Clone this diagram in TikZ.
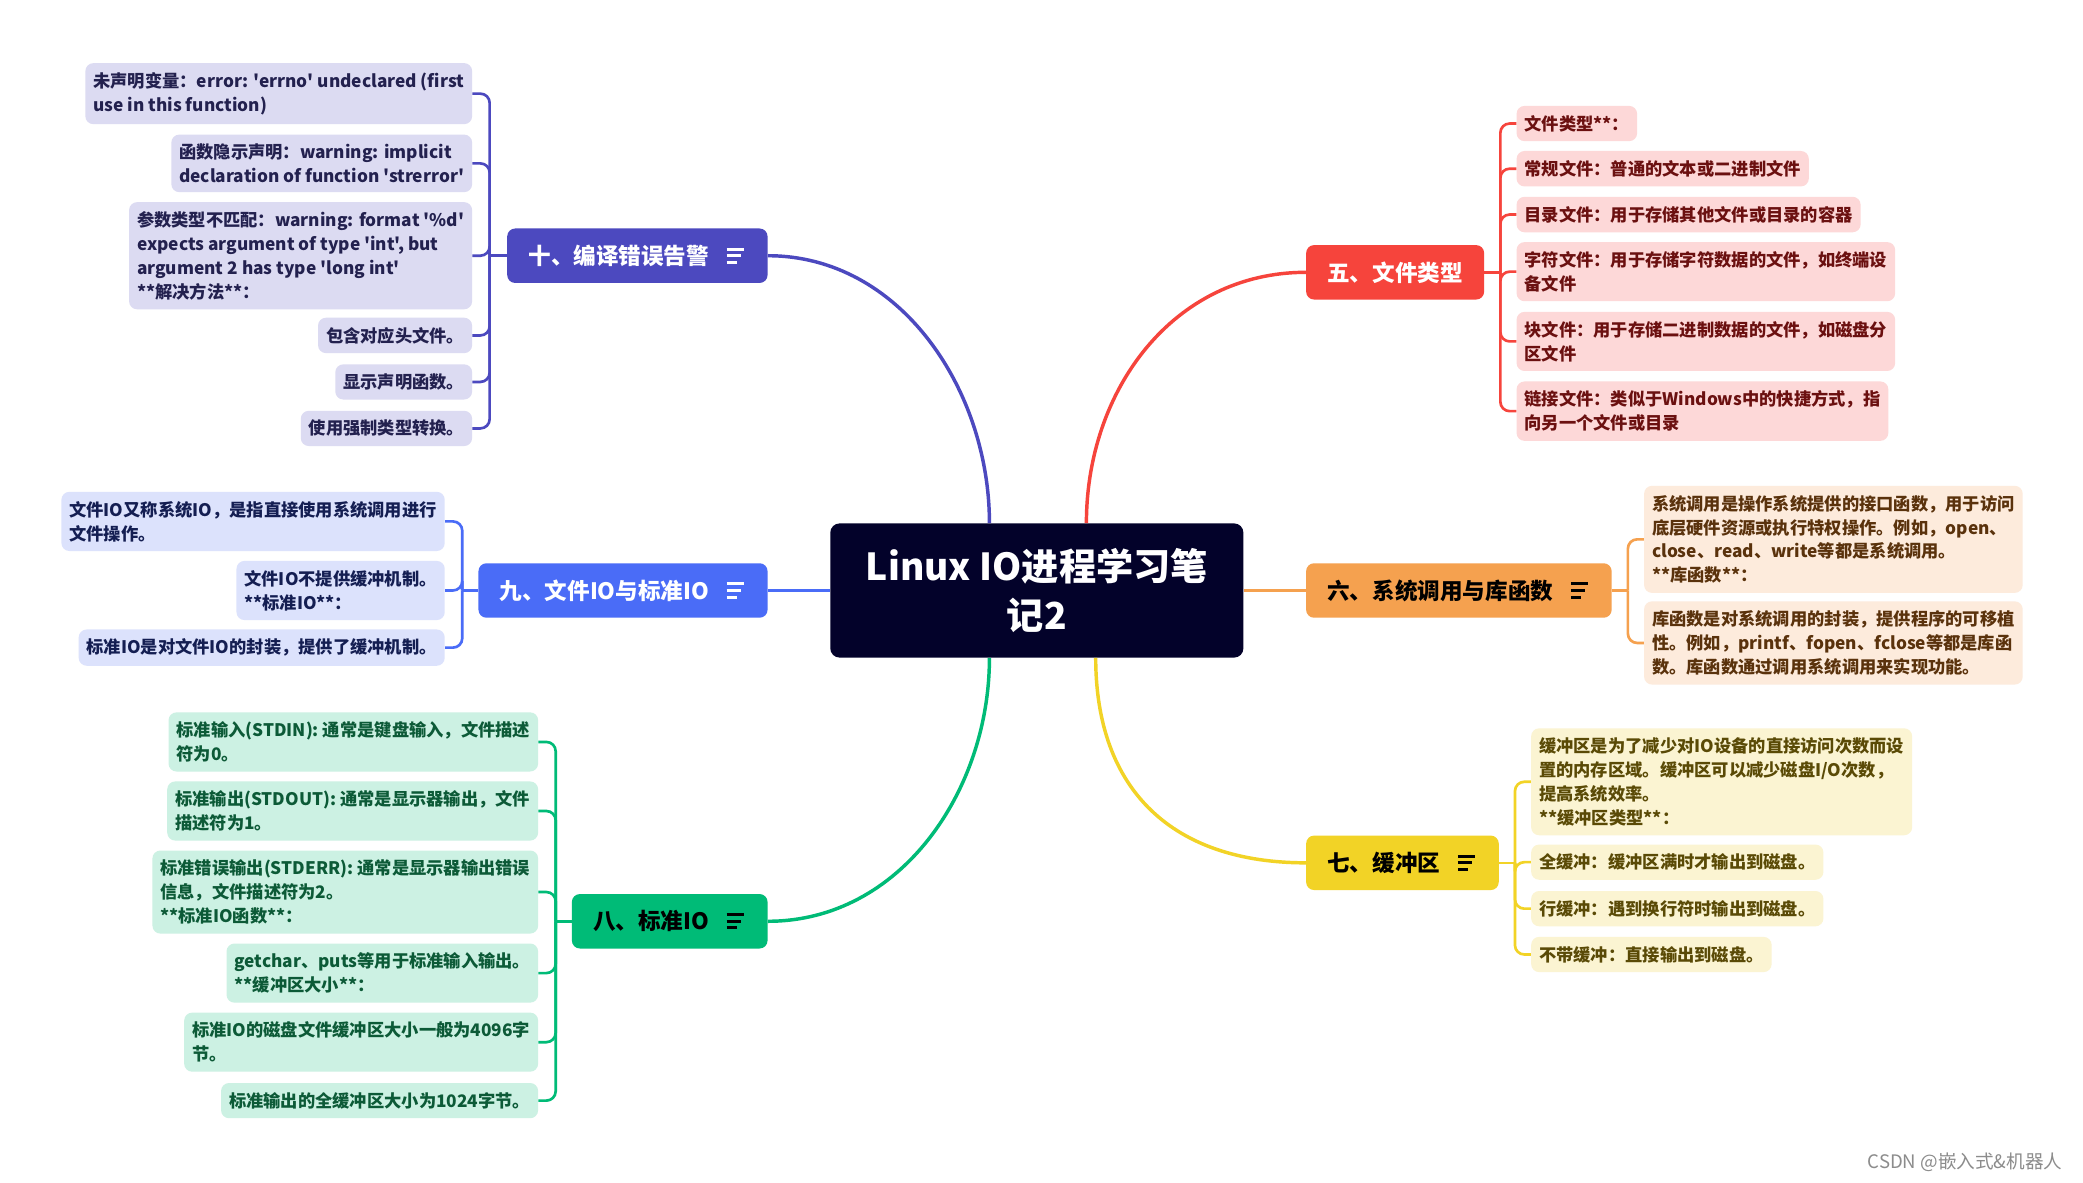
\documentclass[tikz,border=0pt]{standalone}
\usepackage{fontspec}
\newfontfamily\cjk{Noto Sans CJK SC}
\usetikzlibrary{calc}
\definecolor{cCen}{HTML}{03022A}
\definecolor{cPur}{HTML}{4C49BF}\definecolor{lPur}{HTML}{DCDBF2}\definecolor{tPur}{HTML}{23214F}
\definecolor{cBlu}{HTML}{4A6CF7}\definecolor{lBlu}{HTML}{DCE2FC}\definecolor{tBlu}{HTML}{141E52}
\definecolor{cGrn}{HTML}{00BB77}\definecolor{lGrn}{HTML}{CCF1E3}\definecolor{tGrn}{HTML}{0C5A37}
\definecolor{cRed}{HTML}{F6443C}\definecolor{lRed}{HTML}{FDD8D8}\definecolor{tRed}{HTML}{6B1010}
\definecolor{cOrg}{HTML}{F5A14F}\definecolor{lOrg}{HTML}{FDEBDC}\definecolor{tOrg}{HTML}{5A320C}
\definecolor{cYel}{HTML}{F2D326}\definecolor{lYel}{HTML}{FBF4D2}\definecolor{tYel}{HTML}{5A4A06}
\newcommand\menuicon[2]{%
  \draw[#2, line width=2.2pt] ([xshift=-31pt,yshift=5pt]#1.east) -- ++(13,0)
    ([xshift=-31pt]#1.east) -- ++(11,0)
    ([xshift=-31pt,yshift=-5pt]#1.east) -- ++(8,0);}
\begin{document}
\begin{tikzpicture}[x=1pt,y=-1pt,
  centerbox/.style={fill=cCen, rounded corners=7pt, minimum width=311pt, minimum height=101pt,
    align=center, text=white, font=\cjk\bfseries\fontsize{28}{37}\selectfont},
  branch/.style={rounded corners=6pt, inner xsep=16pt, inner ysep=0pt, minimum height=41pt,
    font=\cjk\bfseries\fontsize{17}{20}\selectfont},
  leaf/.style={rounded corners=6pt, inner xsep=6pt, inner ysep=7pt, align=left,
    font=\cjk\bfseries\fontsize{13}{18}\selectfont},
  mainline/.style={line width=2.6pt},
  subline/.style={line width=2pt, rounded corners=7pt}]
\fill[white] (0,0) rectangle (1568,890);
\useasboundingbox (0,0) rectangle (1568,890);

% centre
\node[centerbox] (c) at (780.5,444.5) {Linux IO进程学习笔\\记2};

% branches
\node[branch, fill=cPur, text=white, anchor=east] (b10) at (578,192.5) {十、编译错误告警\kern28pt\relax};
\node[branch, fill=cBlu, text=white, anchor=east] (b9) at (578,444.5) {九、文件IO与标准IO\kern28pt\relax};
\node[branch, fill=cGrn, text=black, anchor=east] (b8) at (578,693.5) {八、标准IO\kern28pt\relax};
\node[branch, fill=cRed, text=white, anchor=west] (b5) at (983,205) {五、文件类型};
\node[branch, fill=cOrg, text=black, anchor=west] (b6) at (983,444.5) {六、系统调用与库函数\kern28pt\relax};
\node[branch, fill=cYel, text=black, anchor=west] (b7) at (983,649.5) {七、缓冲区\kern28pt\relax};
\menuicon{b10}{white}
\menuicon{b9}{white}
\menuicon{b8}{black}
\menuicon{b6}{black}
\menuicon{b7}{black}

% main connectors
\coordinate (cP) at ($(c.north west)+(120,0)$);
\coordinate (cR) at ($(c.north west)+(193,0)$);
\coordinate (cG) at ($(c.south west)+(120,0)$);
\coordinate (cY) at ($(c.south west)+(200,0)$);
\draw[mainline, cPur] (cP) .. controls +(0,-100) and +(100,0) .. (b10.east);
\draw[mainline, cRed] (cR) .. controls +(0,-100) and +(-100,0) .. (b5.west);
\draw[mainline, cGrn] (cG) .. controls +(0,100) and +(100,0) .. (b8.east);
\draw[mainline, cYel] (cY) .. controls +(0,100) and +(-100,0) .. (b7.west);
\draw[mainline, cBlu] (b9.east) -- (c.west);
\draw[mainline, cOrg] (c.east) -- (b6.west);

% junctions
\coordinate (j10) at ($(b10.west)+(-13,0)$); \coordinate (x10) at ($(j10)+(-13,0)$);
\coordinate (j9) at ($(b9.west)+(-12,0)$);  \coordinate (x9) at ($(j9)+(-13,0)$);
\coordinate (j8) at ($(b8.west)+(-12,0)$);  \coordinate (x8) at ($(j8)+(-13,0)$);
\coordinate (j5) at ($(b5.east)+(12,0)$);   \coordinate (x5) at ($(j5)+(12,0)$);
\coordinate (j6) at ($(b6.east)+(12,0)$);   \coordinate (x6) at ($(j6)+(12,0)$);
\coordinate (j7) at ($(b7.east)+(12,0)$);   \coordinate (x7) at ($(j7)+(12,0)$);

% 十 leaves
\node[leaf, fill=lPur, text=tPur, anchor=east] (p1) at (x10 |- 0,70.5) {未声明变量：error: 'errno' undeclared (first\\use in this function)};
\node[leaf, fill=lPur, text=tPur, anchor=east] (p2) at (x10 |- 0,123) {函数隐示声明：warning: implicit\\declaration of function 'strerror'};
\node[leaf, fill=lPur, text=tPur, anchor=east] (p3) at (x10 |- 0,192.5) {参数类型不匹配：warning: format '\%d'\\expects argument of type 'int', but\\argument 2 has type 'long int'\\**解决方法**：};
\node[leaf, fill=lPur, text=tPur, anchor=east] (p4) at (x10 |- 0,252.5) {包含对应头文件。};
\node[leaf, fill=lPur, text=tPur, anchor=east] (p5) at (x10 |- 0,287.5) {显示声明函数。};
\node[leaf, fill=lPur, text=tPur, anchor=east] (p6) at (x10 |- 0,322.5) {使用强制类型转换。};
\draw[subline, cPur] (b10.west) -- (j10);
\foreach \n in {p1,p2,p3,p4,p5,p6} \draw[subline, cPur] (j10) |- (\n.east);

% 九 leaves
\node[leaf, fill=lBlu, text=tBlu, anchor=east] (s1) at (x9 |- 0,392.5) {文件IO又称系统IO，是指直接使用系统调用进行\\文件操作。};
\node[leaf, fill=lBlu, text=tBlu, anchor=east] (s2) at (x9 |- 0,444.5) {文件IO不提供缓冲机制。\\**标准IO**：};
\node[leaf, fill=lBlu, text=tBlu, anchor=east] (s3) at (x9 |- 0,487.5) {标准IO是对文件IO的封装，提供了缓冲机制。};
\draw[subline, cBlu] (b9.west) -- (j9);
\foreach \n in {s1,s2,s3} \draw[subline, cBlu] (j9) |- (\n.east);

% 八 leaves
\node[leaf, fill=lGrn, text=tGrn, anchor=east] (g1) at (x8 |- 0,558.5) {标准输入(STDIN): 通常是键盘输入，文件描述\\符为0。};
\node[leaf, fill=lGrn, text=tGrn, anchor=east] (g2) at (x8 |- 0,610.5) {标准输出(STDOUT): 通常是显示器输出，文件\\描述符为1。};
\node[leaf, fill=lGrn, text=tGrn, anchor=east] (g3) at (x8 |- 0,671.5) {标准错误输出(STDERR): 通常是显示器输出错误\\信息，文件描述符为2。\\**标准IO函数**：};
\node[leaf, fill=lGrn, text=tGrn, anchor=east] (g4) at (x8 |- 0,732.5) {getchar、puts等用于标准输入输出。\\**缓冲区大小**：};
\node[leaf, fill=lGrn, text=tGrn, anchor=east] (g5) at (x8 |- 0,784.5) {标准IO的磁盘文件缓冲区大小一般为4096字\\节。};
\node[leaf, fill=lGrn, text=tGrn, anchor=east] (g6) at (x8 |- 0,828.5) {标准输出的全缓冲区大小为1024字节。};
\draw[subline, cGrn] (b8.west) -- (j8);
\foreach \n in {g1,g2,g3,g4,g5,g6} \draw[subline, cGrn] (j8) |- (\n.east);

% 五 leaves
\node[leaf, fill=lRed, text=tRed, anchor=west] (r1) at (x5 |- 0,93) {文件类型**：};
\node[leaf, fill=lRed, text=tRed, anchor=west] (r2) at (x5 |- 0,127) {常规文件：普通的文本或二进制文件};
\node[leaf, fill=lRed, text=tRed, anchor=west] (r3) at (x5 |- 0,161.5) {目录文件：用于存储其他文件或目录的容器};
\node[leaf, fill=lRed, text=tRed, anchor=west] (r4) at (x5 |- 0,204.5) {字符文件：用于存储字符数据的文件，如终端设\\备文件};
\node[leaf, fill=lRed, text=tRed, anchor=west] (r5) at (x5 |- 0,257) {块文件：用于存储二进制数据的文件，如磁盘分\\区文件};
\node[leaf, fill=lRed, text=tRed, anchor=west] (r6) at (x5 |- 0,309.5) {链接文件：类似于Windows中的快捷方式，指\\向另一个文件或目录};
\draw[subline, cRed] (b5.east) -- (j5);
\foreach \n in {r1,r2,r3,r4,r5,r6} \draw[subline, cRed] (j5) |- (\n.west);

% 六 leaves
\node[leaf, fill=lOrg, text=tOrg, anchor=west] (o1) at (x6 |- 0,406) {系统调用是操作系统提供的接口函数，用于访问\\底层硬件资源或执行特权操作。例如，open、\\close、read、write等都是系统调用。\\**库函数**：};
\node[leaf, fill=lOrg, text=tOrg, anchor=west] (o2) at (x6 |- 0,484) {库函数是对系统调用的封装，提供程序的可移植\\性。例如，printf、fopen、fclose等都是库函\\数。库函数通过调用系统调用来实现功能。};
\draw[subline, cOrg] (b6.east) -- (j6);
\foreach \n in {o1,o2} \draw[subline, cOrg] (j6) |- (\n.west);

% 七 leaves
\node[leaf, fill=lYel, text=tYel, anchor=west] (y1) at (x7 |- 0,588.5) {缓冲区是为了减少对IO设备的直接访问次数而设\\置的内存区域。缓冲区可以减少磁盘I/O次数，\\提高系统效率。\\**缓冲区类型**：};
\node[leaf, fill=lYel, text=tYel, anchor=west] (y2) at (x7 |- 0,649) {全缓冲：缓冲区满时才输出到磁盘。};
\node[leaf, fill=lYel, text=tYel, anchor=west] (y3) at (x7 |- 0,684) {行缓冲：遇到换行符时输出到磁盘。};
\node[leaf, fill=lYel, text=tYel, anchor=west] (y4) at (x7 |- 0,718.5) {不带缓冲：直接输出到磁盘。};
\draw[subline, cYel] (b7.east) -- (j7);
\foreach \n in {y1,y2,y3,y4} \draw[subline, cYel] (j7) |- (\n.west);

% watermark
\node[anchor=east, text=black!45, font=\cjk\fontsize{14}{16}\selectfont] (wm) at (1556,875) {CSDN @嵌入式\&机器人};
\end{tikzpicture}
\end{document}
